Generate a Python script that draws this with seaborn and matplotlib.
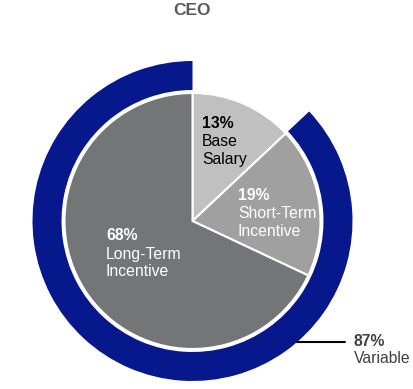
import matplotlib
matplotlib.use("Agg")
import matplotlib.pyplot as plt
import seaborn as sns

# pay mix data
components = [["Base", "Salary"], ["Short-Term", "Incentive"], ["Long-Term", "Incentive"]]
shares = [13, 19, 68]
variable_share = 87
slice_colors = ["#c0c0c0", "#a0a0a1", "#737577"]
text_colors = ["black", "white", "white"]
navy = "#07188c"

sns.set_theme(style="white")
plt.rcParams['font.family'] = ['Liberation Sans', 'DejaVu Sans']

W, H = 414, 389
fig = plt.figure(figsize=(W / 100, H / 100), dpi=100)
ax = fig.add_axes([0, 0, 1, 1])

def py(y):
    return H - y

cx, cy = 192.5, py(221)

# inner pie
ax.pie(shares, colors=slice_colors, startangle=90, counterclock=False,
       radius=128, center=(cx, cy), frame=True,
       wedgeprops=dict(edgecolor="white", linewidth=1.5))

# outer ring for variable pay
ax.pie([100 - variable_share, variable_share], colors=["none", navy],
       startangle=90, counterclock=False, radius=160, center=(cx, cy),
       frame=True, wedgeprops=dict(width=29, edgecolor="none"))
ax.set_xlim(0, W)
ax.set_ylim(0, H)
ax.set_aspect("equal")
ax.axis("off")

fs = 11.3
label_pos = [(202, 123), (238, 195), (106, 236)]
for (x, y), lines, s, c in zip(label_pos, components, shares, text_colors):
    ax.text(x, py(y), f"{s}%", fontsize=fs, fontweight="bold", color=c,
            ha="left", va="center")
    for i, line in enumerate(lines):
        ax.text(x, py(y + 18 * (i + 1)), line, fontsize=fs, color=c,
                ha="left", va="center")

# variable callout
ax.plot([297, 345], [py(342), py(342)], color="black", lw=1.5)
ax.text(354, py(342), f"{variable_share}%", fontsize=fs, fontweight="bold",
        color="#404040", ha="left", va="center")
ax.text(354, py(359), "Variable", fontsize=fs, color="#404040",
        ha="left", va="center")

ax.text(192.5, py(10), "CEO", fontsize=12.5, fontweight="bold", color="#595959",
        ha="center", va="center")

fig.savefig("out.png", dpi=100)
